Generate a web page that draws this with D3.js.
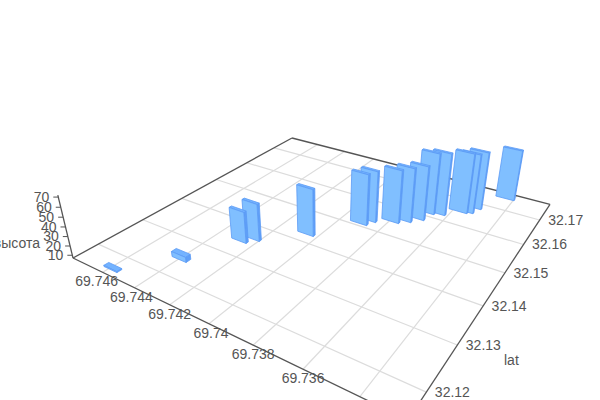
<!DOCTYPE html><html><head><meta charset="utf-8"><style>html,body{margin:0;background:#fff}svg{display:block}text{font-family:"Liberation Sans",Arial,sans-serif;font-size:14px;fill:#555}</style></head><body><svg id="c" width="600" height="400"></svg><script src="https://cdn.jsdelivr.net/npm/d3@7"></script><script>
const barLon=[69.74589,69.74396,69.74277,69.74238,69.7406,69.73909,69.73888,69.73797,69.73755,69.73714,69.73698,69.73653,69.73577,69.73554,69.73537,69.73439];
const barLat=[32.1164,32.12454,32.13442,32.13616,32.14265,32.15106,32.15289,32.15488,32.1564,32.15837,32.16144,32.16222,32.16519,32.1658,32.16811,32.17512];
const barHeight=[8.2,12.5,40.8,47.3,58,63.2,63.5,65.5,66.7,66.9,75,75.9,74,73,71.4,64.9];
const barDepth=[0.001,0.0011,0.0006,0.0006,0.0006,0.0006,0.0006,0.0006,0.0006,0.0006,0.0006,0.0006,0.0006,0.0006,0.0006,0.0006];
const lonTicks=[69.746,69.744,69.742,69.74,69.738,69.736,69.734];
const latTicks=[32.12,32.13,32.14,32.15,32.16,32.17];
const zTicks=[10,20,30,40,50,60,70];
const lonDomain=[69.74806,69.7325],latDomain=[32.1149,32.1772],zDomain=[7,72];
const barDLon=0.00085;

const sS=d3.scaleLinear().domain(lonDomain).range([0,1]);
const E=0.09;
const uS=l=>{const s=sS(l);return s*(1-E)/(1-E*s);};
const vS=d3.scaleLinear().domain(latDomain).range([0,1]);
const wS=d3.scaleLinear().domain(zDomain).range([0,1]);
// Camera: floor corners on screen and vertical vanishing point
const L=[73,258],F=[408,420],R=[550,204.3],B=[292,138],VP=[322,1290],K=-0.0575;
function sq2q(p0,p1,p2,p3){const [x0,y0]=p0,[x1,y1]=p1,[x2,y2]=p2,[x3,y3]=p3;const dx1=x1-x2,dx2=x3-x2,sx=x0-x1+x2-x3,dy1=y1-y2,dy2=y3-y2,sy=y0-y1+y2-y3;const d=dx1*dy2-dx2*dy1;const g=(sx*dy2-dx2*sy)/d,h=(dx1*sy-sx*dy1)/d;return [[x1-x0+g*x1,x3-x0+h*x3,x0],[y1-y0+g*y1,y3-y0+h*y3,y0],[g,h,1]];}
const H=sq2q(L,F,R,B);
function P(lon,lat,z){const u=uS(lon),v=vS(lat),w=wS(z)*K;
 const X=H[0][0]*u+H[0][1]*v+H[0][2]+w*VP[0],Y=H[1][0]*u+H[1][1]*v+H[1][2]+w*VP[1],W=H[2][0]*u+H[2][1]*v+H[2][2]+w;
 return [X/W,Y/W];}
const zF=zDomain[0];
const svg=d3.select('#c');
const line=(a,b,c,sw)=>svg.append('line').attr('x1',a[0]).attr('y1',a[1]).attr('x2',b[0]).attr('y2',b[1]).attr('stroke',c).attr('stroke-width',sw);
const GRID='#dcdcdc',AX='#555';
lonTicks.forEach(t=>line(P(t,latDomain[0],zF),P(t,latDomain[1],zF),GRID,1.2));
latTicks.forEach(t=>line(P(lonDomain[0],t,zF),P(lonDomain[1],t,zF),GRID,1.2));
line(L,B,AX,1.3);line(B,R,AX,1.3);line(L,F,AX,1.3);line(F,R,AX,1.3);
line(L,P(lonDomain[0],latDomain[0],zDomain[1]),AX,1.3);
zTicks.forEach(t=>{const p=P(lonDomain[0],latDomain[0],t);line([p[0]-5,p[1]],p,AX,1);});
// bars, back to front
const order=d3.range(barLon.length).sort((a,b)=>barLat[b]-barLat[a]);
const poly=(pts,fill)=>svg.append('polygon').attr('points',pts.map(p=>p.join(',')).join(' ')).attr('fill',fill).attr('stroke','#5c9bf5').attr('stroke-width',0.8).attr('stroke-linejoin','round');
order.forEach(i=>{const x0=barLon[i]+barDLon/2,x1=barLon[i]-barDLon/2,y0=barLat[i]-0.0003,y1=y0+barDepth[i],h=barHeight[i];
 poly([P(x1,y0,zF),P(x1,y1,zF),P(x1,y1,h),P(x1,y0,h)],'#5f9ff7');
 poly([P(x0,y0,h),P(x1,y0,h),P(x1,y1,h),P(x0,y1,h)],'#73b3ff');
 poly([P(x0,y0,zF),P(x1,y0,zF),P(x1,y0,h),P(x0,y0,h)],'#80bfff');
});
const txt=(s,x,y,a)=>svg.append('text').attr('x',x).attr('y',y).attr('text-anchor',a).attr('dy','0.35em').text(s);
const lonLabelNudge=[-6,-3,0,2,0,0,-3];
lonTicks.forEach((t,i)=>{const p=P(t,latDomain[0],zF);txt(String(t),p[0]+lonLabelNudge[i],p[1]+9,'middle');});
latTicks.forEach(t=>{const p=P(lonDomain[1],t,zF);txt(String(t),p[0]+8.5,p[1],'start');});
zTicks.forEach(t=>{const p=P(lonDomain[0],latDomain[0],t);txt(String(t),p[0]-9,p[1],'end');});
txt('lat',504,360,'start');
txt('высота',40,243,'end');
</script></body></html>
